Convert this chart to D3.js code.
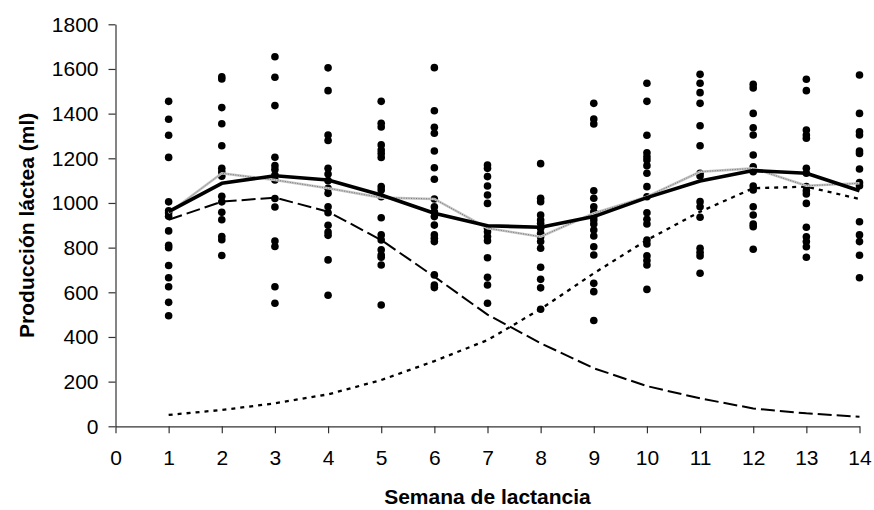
<!DOCTYPE html>
<html>
<head>
<meta charset="utf-8">
<script src="https://cdn.jsdelivr.net/npm/d3@7"></script>
<style>
  html, body { margin: 0; padding: 0; background: #fff; }
  svg { display: block; }
  text { font-family: "Liberation Sans", Arial, sans-serif; }
</style>
</head>
<body>
<svg id="chart" width="874" height="510"></svg>
<script>
// Semanas de lactancia
const weeks = [1, 2, 3, 4, 5, 6, 7, 8, 9, 10, 11, 12, 13, 14];

// Producción individual observada (ml) por semana
const obsW1  = [1455, 1375, 1303, 1204, 1005, 965, 955, 940, 875, 810, 800, 720, 665, 625, 555, 495];
const obsW2  = [1565, 1555, 1427, 1355, 1256, 1155, 1140, 1120, 1030, 1005, 958, 925, 850, 835, 765];
const obsW3  = [1655, 1563, 1436, 1205, 1167, 1150, 1125, 1103, 1020, 982, 830, 805, 625, 551];
const obsW4  = [1605, 1503, 1304, 1280, 1155, 1130, 1100, 1066, 1043, 983, 956, 900, 870, 855, 745, 587];
const obsW5  = [1455, 1357, 1340, 1260, 1237, 1222, 1204, 1073, 1058, 1028, 934, 857, 834, 790, 767, 757, 722, 543];
const obsW6  = [1606, 1413, 1339, 1312, 1233, 1158, 1106, 1018, 983, 961, 939, 901, 857, 842, 827, 678, 633, 621];
const obsW7  = [1170, 1155, 1118, 1076, 1036, 998, 887, 871, 850, 831, 755, 667, 633, 551];
const obsW8  = [1176, 1021, 1006, 946, 924, 909, 887, 864, 849, 827, 797, 712, 658, 620, 524];
const obsW9  = [1446, 1376, 1354, 1055, 1021, 983, 961, 939, 924, 906, 879, 852, 804, 767, 640, 603, 474];
const obsW10 = [1536, 1455, 1303, 1225, 1207, 1192, 1167, 1133, 1073, 1028, 956, 927, 906, 834, 816, 763, 742, 722, 613];
const obsW11 = [1576, 1536, 1494, 1446, 1346, 1256, 1133, 1121, 1006, 983, 936, 797, 779, 763, 685];
const obsW12 = [1531, 1515, 1401, 1337, 1304, 1215, 1162, 1140, 1076, 1058, 983, 946, 906, 894, 793];
const obsW13 = [1554, 1503, 1327, 1304, 1290, 1155, 1133, 1073, 1055, 1040, 998, 891, 849, 827, 804, 757];
const obsW14 = [1573, 1401, 1319, 1304, 1233, 1222, 1152, 1091, 1077, 916, 857, 827, 766, 665];
const observations = [obsW1, obsW2, obsW3, obsW4, obsW5, obsW6, obsW7,
                      obsW8, obsW9, obsW10, obsW11, obsW12, obsW13, obsW14];

// Media observada por semana
const observedMean = [955, 1133, 1103, 1066, 1024, 1018, 887, 849, 954, 1028, 1140, 1155, 1077, 1088];
// Curva ajustada total
const fittedTotal  = [961, 1088, 1122, 1103, 1036, 954, 898, 891, 939, 1024, 1098, 1145, 1133, 1055];
// Componente decreciente (trazo largo)
const componentA   = [925, 1006, 1024, 961, 834, 670, 500, 372, 260, 180, 125, 80, 58, 43];
// Componente creciente (trazo corto)
const componentB   = [51, 73, 103, 143, 207, 292, 386, 525, 685, 834, 961, 1066, 1073, 1018];

const xTicks = [0, 1, 2, 3, 4, 5, 6, 7, 8, 9, 10, 11, 12, 13, 14];
const yTicks = [0, 200, 400, 600, 800, 1000, 1200, 1400, 1600, 1800];

const xTitle = "Semana de lactancia";
const yTitle = "Producción láctea (ml)";

const svg = d3.select("#chart");
const margin = { left: 115.5, right: 14.5, top: 24.3, bottom: 83.7 };
const W = 874, H = 510;
const fontSize = "21px";

const x = d3.scaleLinear().domain([0, 14]).range([margin.left, W - margin.right]);
const y = d3.scaleLinear().domain([0, 1800]).range([H - margin.bottom, margin.top]);

// Ejes
const xAxis = svg.append("g")
  .attr("transform", `translate(0,${y(0)})`)
  .call(d3.axisBottom(x).tickValues(xTicks).tickFormat(d3.format("d"))
        .tickSizeInner(7).tickSizeOuter(0).tickPadding(17));
const yAxis = svg.append("g")
  .attr("transform", `translate(${x(0)},0)`)
  .call(d3.axisLeft(y).tickValues(yTicks).tickFormat(d3.format("d"))
        .tickSizeInner(7).tickSizeOuter(0).tickPadding(10));

[xAxis, yAxis].forEach(g => {
  g.selectAll("path.domain").attr("stroke", "#333").attr("stroke-width", 1.2);
  g.selectAll(".tick line").attr("stroke", "#333").attr("stroke-width", 1.2);
  g.selectAll(".tick text")
    .attr("fill", "#000")
    .style("font-family", "'Liberation Sans', Arial, sans-serif")
    .style("font-size", fontSize);
});

// Puntos observados
const points = [];
weeks.forEach((w, i) => observations[i].forEach(v => points.push({ w, v })));
svg.append("g")
  .selectAll("circle")
  .data(points)
  .join("circle")
  .attr("cx", d => x(d.w))
  .attr("cy", d => y(d.v))
  .attr("r", 3.8)
  .attr("fill", "#000");

const line = d3.line()
  .x((d, i) => x(weeks[i]))
  .y(d => y(d));

// Componente decreciente
svg.append("path")
  .datum(componentA)
  .attr("d", line)
  .attr("fill", "none")
  .attr("stroke", "#000")
  .attr("stroke-width", 2)
  .attr("stroke-dasharray", "14,5");

// Componente creciente
svg.append("path")
  .datum(componentB)
  .attr("d", line)
  .attr("fill", "none")
  .attr("stroke", "#000")
  .attr("stroke-width", 2.3)
  .attr("stroke-dasharray", "4,5");

// Media observada (línea gris fina)
svg.append("path")
  .datum(observedMean)
  .attr("d", line)
  .attr("fill", "none")
  .attr("stroke", "#c4c4c4")
  .attr("stroke-width", 2.6);
svg.append("path")
  .datum(observedMean)
  .attr("d", line)
  .attr("fill", "none")
  .attr("stroke", "#777")
  .attr("stroke-width", 1)
  .attr("stroke-dasharray", "1,1.5");

// Curva ajustada total
svg.append("path")
  .datum(fittedTotal)
  .attr("d", line)
  .attr("fill", "none")
  .attr("stroke", "#000")
  .attr("stroke-width", 3.6)
  .attr("stroke-linejoin", "round");

// Títulos de ejes
svg.append("text")
  .attr("x", (x(0) + x(14)) / 2)
  .attr("y", 504)
  .attr("text-anchor", "middle")
  .style("font-size", fontSize)
  .style("font-weight", "bold")
  .text(xTitle);

svg.append("text")
  .attr("transform", `translate(34,${(y(0) + y(1800)) / 2}) rotate(-90)`)
  .attr("text-anchor", "middle")
  .style("font-size", fontSize)
  .style("font-weight", "bold")
  .text(yTitle);
</script>
</body>
</html>
